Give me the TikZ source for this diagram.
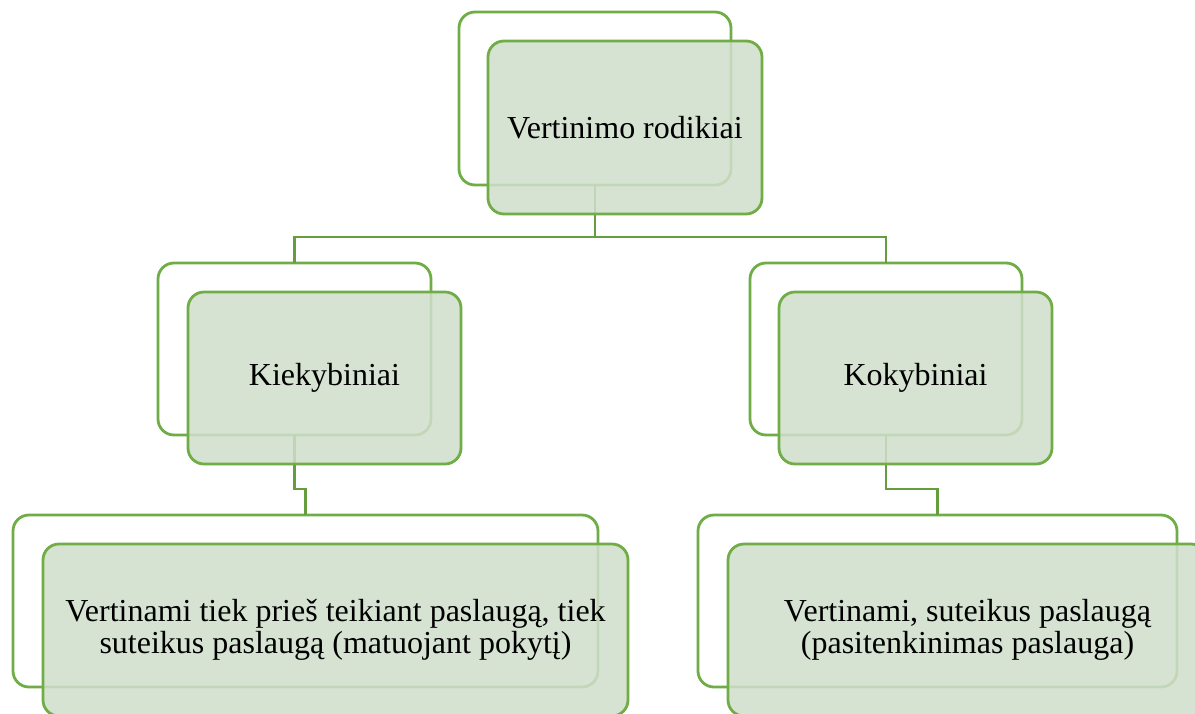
\documentclass[tikz,border=0pt]{standalone}
\usepackage{fontspec}
\setmainfont{Liberation Serif}
\definecolor{grn}{RGB}{112,173,71}
\definecolor{conng}{RGB}{100,158,62}
\definecolor{boxfill}{RGB}{209,223,203}
\begin{document}
\begin{tikzpicture}[x=1pt,y=-1pt,
  back/.style={draw=grn,line width=2.8pt,rounded corners=16pt,inner sep=0pt,outer sep=0pt},
  front/.style={draw=grn,line width=2.8pt,rounded corners=16pt,fill=boxfill,fill opacity=0.85,text opacity=1,inner sep=0pt,outer sep=0pt,align=center,font=\fontsize{32}{32}\selectfont},
  conn/.style={draw=conng,line width=2.6pt}]
\clip (0,0) rectangle (1195,713);
\fill[white] (0,0) rectangle (1195,713);
% back boxes
\node[back,minimum width=272pt,minimum height=173pt] (tb) at (595,98.5) {};
\node[back,minimum width=273pt,minimum height=172pt] (lb) at (294.5,349) {};
\node[back,minimum width=272pt,minimum height=172pt] (rb) at (886,349) {};
\node[back,minimum width=585pt,minimum height=172pt] (llb) at (305.5,601) {};
\node[back,minimum width=479pt,minimum height=172pt] (rrb) at (937.5,601) {};
% connectors
\coordinate (j1) at (595,237);
\coordinate (j2) at (294.5,489);
\coordinate (j3) at (886,489);
\draw[conn] (tb.south) -- (j1) -| (lb.north);
\draw[conn] (j1) -| (rb.north);
\draw[conn] (lb.south) -- (j2) -| (llb.north);
\draw[conn] (rb.south) -- (j3) -| (rrb.north);
% front boxes
\node[front,minimum width=274pt,minimum height=173pt] (tf) at (625,127.5) {Vertinimo rodikiai};
\node[front,minimum width=273pt,minimum height=172pt] (lf) at (324.5,378) {Kiekybiniai};
\node[front,minimum width=273pt,minimum height=172pt] (rf) at (915.5,378) {Kokybiniai};
\node[front,minimum width=585pt,minimum height=172pt] (llf) at (335.5,630) {Vertinami tiek prieš teikiant paslaugą, tiek\\suteikus paslaugą (matuojant pokytį)};
\node[front,minimum width=479pt,minimum height=172pt] (rrf) at (967.5,630) {Vertinami, suteikus paslaugą\\(pasitenkinimas paslauga)};
\end{tikzpicture}
\end{document}
